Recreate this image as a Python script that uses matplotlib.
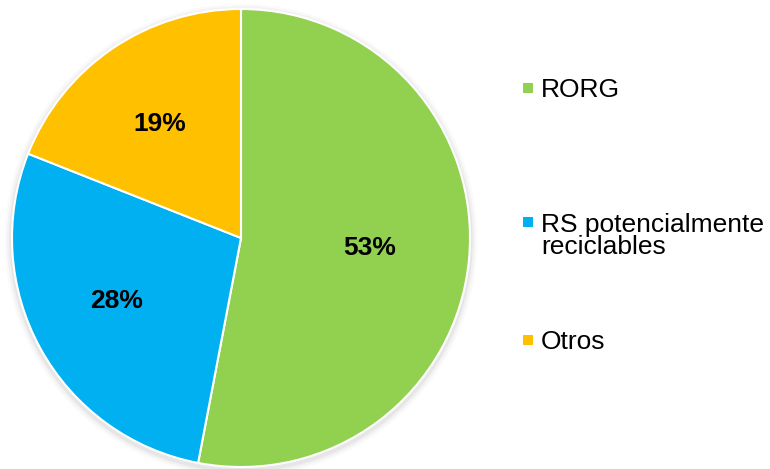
import matplotlib.pyplot as plt
from matplotlib.patches import Circle, Rectangle

# Datos del gráfico
categorias = ['RORG', 'RS potencialmente\nreciclables', 'Otros']
porcentajes = [53, 28, 19]
colores = ['#92D050', '#00B0F0', '#FFC000']

plt.rcParams['font.family'] = ['Liberation Sans', 'DejaVu Sans']

W, H = 770, 469
fig = plt.figure(figsize=(W / 100, H / 100), dpi=100)

# Centro y radio del pastel en píxeles
cx, cy, r = 241, 238, 229
ax = fig.add_axes([(cx - r) / W, (H - cy - r) / H, 2 * r / W, 2 * r / H])

# Sombra suave alrededor del círculo
for k, a in [(1.032, 0.04), (1.022, 0.06), (1.012, 0.10)]:
    ax.add_patch(Circle((0, -0.01), k, color='#808080', alpha=a, lw=0,
                        clip_on=False, zorder=0))

wedges, texts, autotexts = ax.pie(
    porcentajes, colors=colores, startangle=90, counterclock=False,
    autopct='%1.0f%%', pctdistance=0.59, radius=1,
    wedgeprops=dict(edgecolor='white', linewidth=1.5),
    textprops=dict(fontsize=19, fontweight='bold', color='black'))
for w in wedges:
    w.set_zorder(2)
# Excel deja las etiquetas un poco más a la izquierda
for t in autotexts:
    x, y = t.get_position()
    t.set_position((x - 0.025, y + 0.01))

ax.set_xlim(-1, 1)
ax.set_ylim(-1, 1)
ax.set_aspect('equal')
ax.axis('off')

# Leyenda a mano (el marcador va junto a la primera línea, como en Excel)
y_leyenda = [88, 222, 340]  # centro de la primera línea, en píxeles
interlinea = 23
for nombre, color, yp in zip(categorias, colores, y_leyenda):
    fig.patches.append(Rectangle((523 / W, (H - yp - 5) / H), 10 / W, 10 / H,
                                 transform=fig.transFigure, facecolor=color,
                                 edgecolor='none'))
    # va='baseline' toma la línea base de la última línea
    base = yp + 9 + interlinea * nombre.count('\n')
    fig.text(541 / W, (H - base) / H, nombre, fontsize=19, va='baseline',
             ha='left', color='black', linespacing=0.9)

fig.savefig('out.png', dpi=100)
